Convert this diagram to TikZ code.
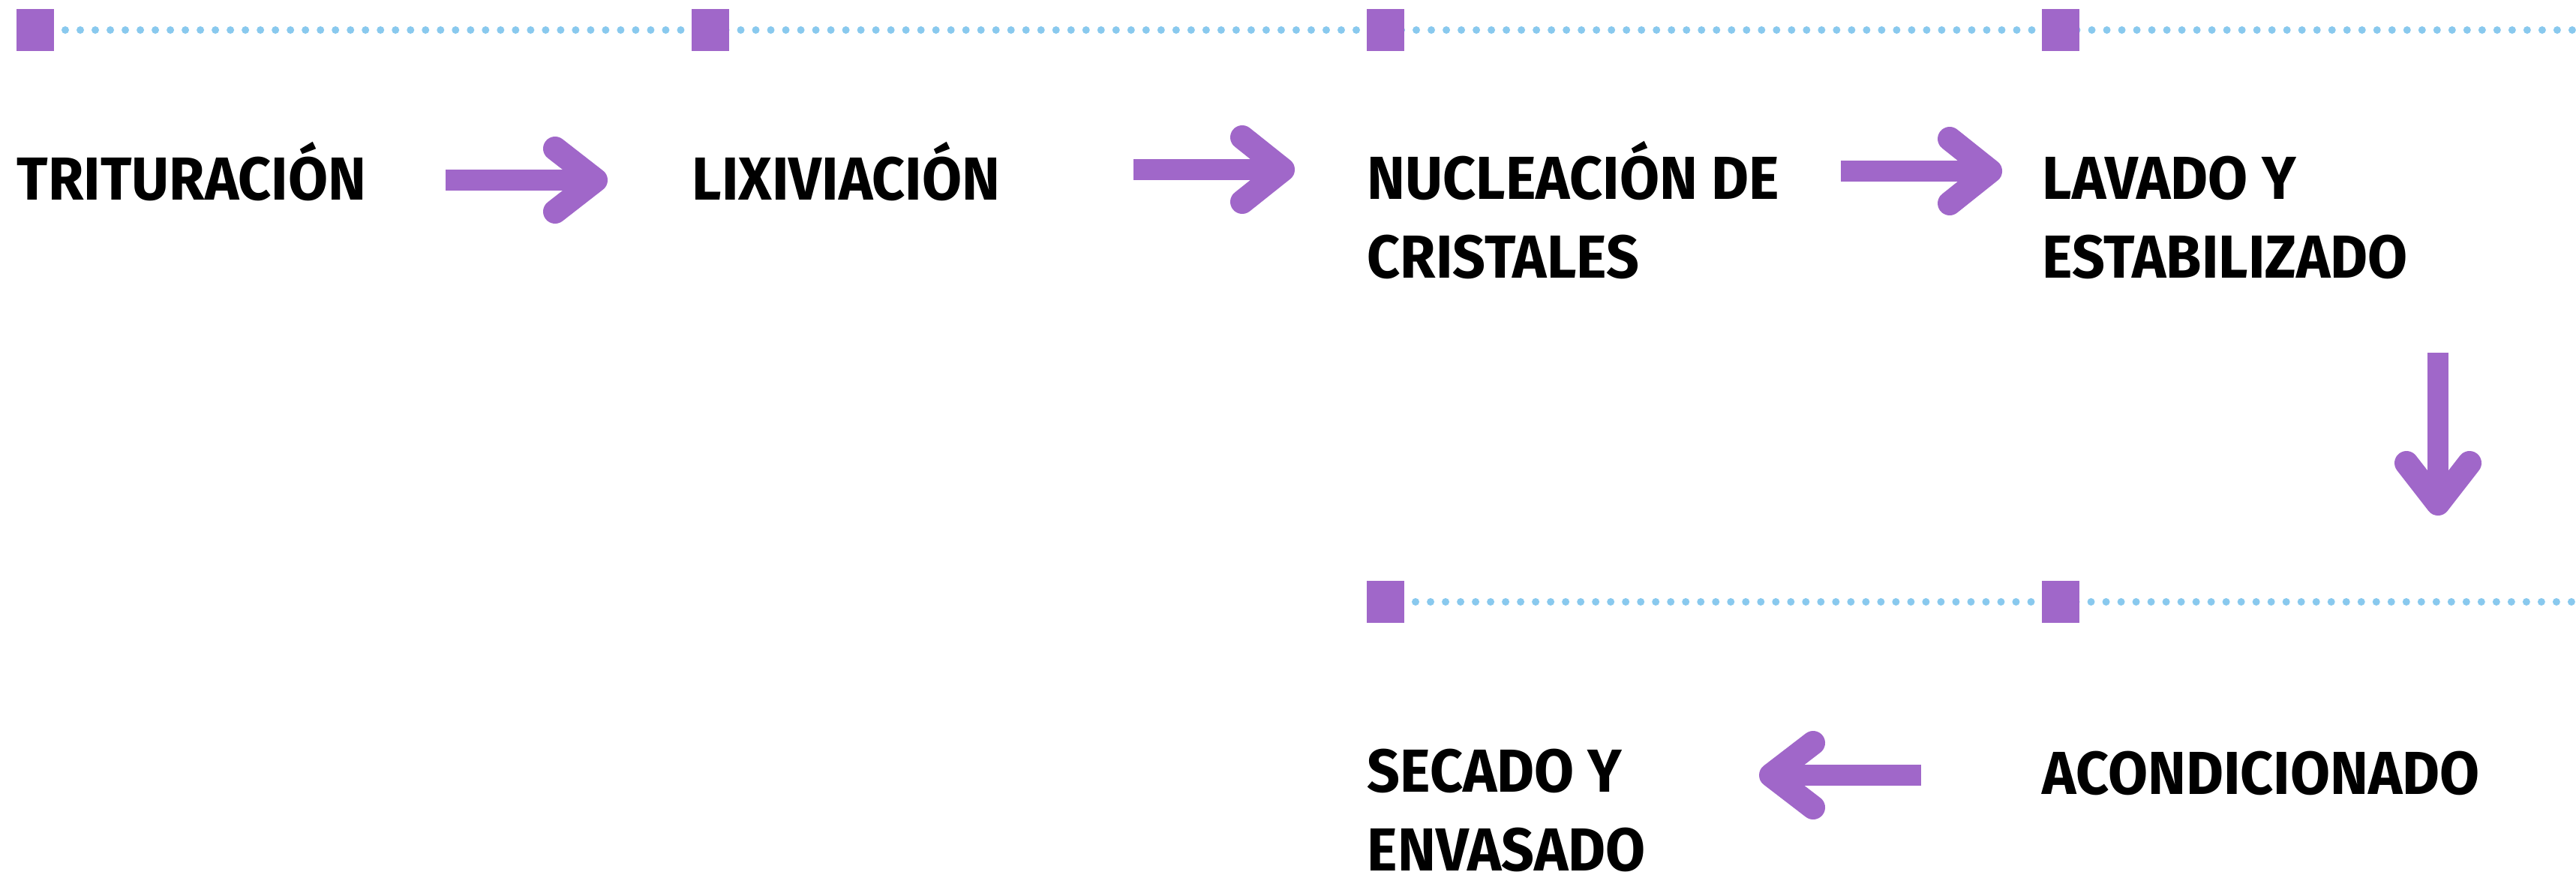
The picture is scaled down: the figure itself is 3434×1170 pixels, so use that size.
\documentclass[tikz,border=0pt]{standalone}
\usepackage{fontspec}
\setmainfont{Fira Sans}[FakeStretch=0.95]

\definecolor{morado}{HTML}{A067C9}
\definecolor{celeste}{HTML}{89C9EE}

\tikzset{
  marca/.style={fill=morado, minimum width=0.5cm, minimum height=0.56cm, inner sep=0pt},
  etapa/.style={anchor=base west, inner sep=0pt, align=left, text depth=0pt,
    font=\bfseries\fontsize{23}{29.6}\selectfont},
  puntos/.style={celeste, line width=0.1cm, line cap=round, dash pattern=on 0cm off 0.2cm},
  cuerpo/.style={morado, line width=0.28cm},
  punta/.style={morado, line width=0.32cm, line cap=round, line join=round},
}

\begin{document}
\begin{tikzpicture}[x=0.01cm, y=-0.01cm]

      \useasboundingbox (0,0) rectangle (3434,1170);

      % lineas punteadas
      \draw[puntos] (87,40) -- (3434,40);
      \draw[puntos] (1887,802) -- (3434,802);

      \begin{scope}[every node/.style={marca}]
        \node (m1) at (47,40)    {};
        \node (m2) at (947,40)   {};
        \node (m3) at (1847,40)  {};
        \node (m4) at (2747,40)  {};
        \node (m5) at (1847,802) {};
        \node (m6) at (2747,802) {};
      \end{scope}

      % base = ultima linea del texto
      \begin{scope}[every node/.style={etapa}]
        \node (trit)  at (22,266)    {TRITURACIÓN};
        \node (lixi)  at (922,266)   {LIXIVIACIÓN};
        \node (nucl)  at (1822,370)  {NUCLEACIÓN DE\\CRISTALES};
        \node (lava)  at (2722,370)  {LAVADO Y\\ESTABILIZADO};
        \node (acon)  at (2722,1058) {ACONDICIONADO};
        \node (seca)  at (1822,1160) {SECADO Y\\ENVASADO};
      \end{scope}

      % flechas
      \coordinate (f1a) at (594,240);   \coordinate (f1b) at (794,240);
      \coordinate (f2a) at (1511,226);  \coordinate (f2b) at (1710,226);
      \coordinate (f3a) at (2454,228);  \coordinate (f3b) at (2653,228);
      \coordinate (f4a) at (3250,470);  \coordinate (f4b) at (3250,671);
      \coordinate (f5a) at (2561,1033); \coordinate (f5b) at (2361,1033);

      \draw[cuerpo] (f1a) -- ([xshift=-0.1cm]f1b);
      \draw[punta] (f1b) ++(-54,-42) -- (f1b) -- ++(-54,42);
      \draw[cuerpo] (f2a) -- ([xshift=-0.1cm]f2b);
      \draw[punta] (f2b) ++(-54,-43) -- (f2b) -- ++(-54,43);
      \draw[cuerpo] (f3a) -- ([xshift=-0.1cm]f3b);
      \draw[punta] (f3b) ++(-54,-43) -- (f3b) -- ++(-54,43);
      \draw[cuerpo] (f4a) -- ([yshift=0.1cm]f4b);
      \draw[punta] (f4b) ++(-42,-54) -- (f4b) -- ++(42,-54);
      \draw[cuerpo] (f5a) -- ([xshift=0.1cm]f5b);
      \draw[punta] (f5b) ++(56,-43) -- (f5b) -- ++(56,43);

    \end{tikzpicture}
\end{document}
